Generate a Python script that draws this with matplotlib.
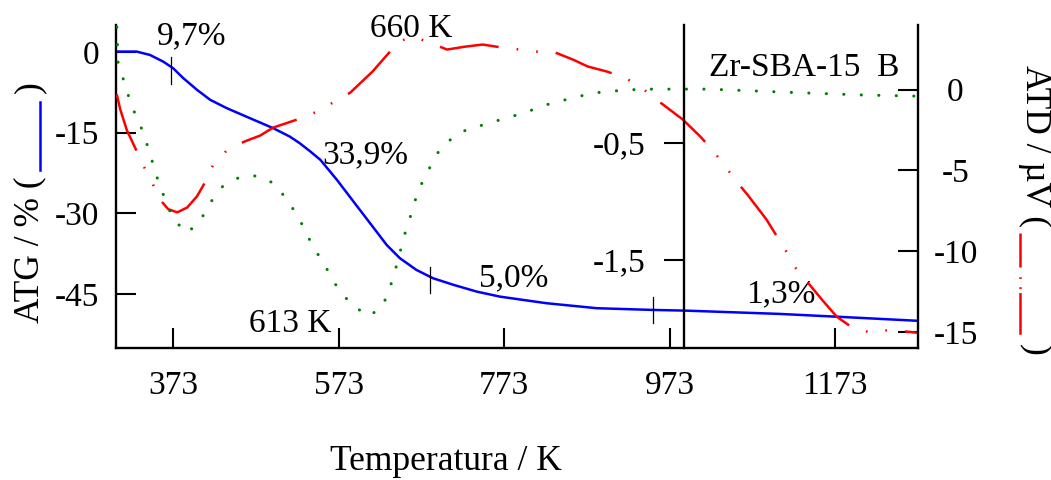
import matplotlib
matplotlib.use("Agg")
import matplotlib.pyplot as plt
from matplotlib.lines import Line2D

plt.rcParams['font.family'] = ['Liberation Serif', 'DejaVu Serif']
plt.rcParams['font.size'] = 24
plt.rcParams['axes.unicode_minus'] = False
plt.rcParams['lines.scale_dashes'] = False

BLUE, RED, GREEN = "#0000ff", "#ff0000", "#008000"

# ---------------------------------------------------------------- data
# ATG (mass loss, %) vs temperature
T_atg = [304, 329, 345, 361, 373, 385, 402, 418, 438, 466, 494, 514, 526, 539, 551,
         571, 591, 611, 631, 647, 667, 687, 712, 740, 768, 824, 885, 953, 993,
         1106, 1187, 1273]
atg = [0.06, 0.06, -0.56, -1.80, -3.03, -4.83, -7.06, -8.92, -10.46, -12.32,
       -14.17, -15.73, -16.96, -18.52, -20.06, -23.78, -27.81, -31.82, -35.85,
       -38.32, -40.50, -42.04, -43.28, -44.53, -45.46, -46.68, -47.61,
       -47.93, -48.06, -48.67, -49.28, -49.95]

# ATD (uV) vs temperature
T_atd = [305, 309, 317, 328, 337, 348, 357, 367, 378, 390, 402, 412, 421, 439, 460,
         478, 494, 526, 547, 566, 587, 614, 635, 645, 663, 683, 704, 726, 747, 771,
         792, 813, 832, 856, 874, 897, 919, 939, 957, 989, 1010, 1021, 1036, 1052,
         1067, 1090, 1114, 1124, 1142, 1157, 1175, 1194, 1217, 1239, 1260, 1273]
atd = [-0.3, -1.2, -2.5, -3.7, -4.7, -5.8, -6.8, -7.4, -7.6, -7.3, -6.6, -5.7, -4.7,
       -3.7, -3.2, -2.85, -2.35, -1.8, -1.36, -0.81, -0.19, 1.12, 2.35, 2.97, 3.28,
       2.91, 2.48, 2.66, 2.79, 2.60, 2.48, 2.35, 2.35, 1.86, 1.43, 1.12, 0.74, 0.12,
       -0.62, -1.86, -2.91, -3.53, -4.46, -5.58, -6.51, -8.05, -10.04, -10.97,
       -12.08, -13.01, -14.07, -14.75, -15.06, -14.87, -14.99, -15.06]

# DTG (inner axis) vs temperature
T_dtg = [305, 306.5, 314, 320, 328, 337, 344, 350, 356, 364.5, 373, 390, 406, 419,
         433, 454, 476, 496, 512, 525, 535, 547, 559, 571, 587, 608.5, 625, 634,
         640, 646, 651, 658, 664, 671, 681, 692, 711, 732, 752, 773, 794, 814, 834,
         855, 875, 897, 918, 939, 982, 1021, 1127, 1206, 1273]
dtg = [0.49, 0.18, 0.02, -0.12, -0.27, -0.41, -0.57, -0.71, -0.85, -1.00, -1.15,
       -1.27, -1.16, -1.00, -0.87, -0.79, -0.78, -0.85, -1.00, -1.14, -1.29, -1.44,
       -1.58, -1.73, -1.87, -1.98, -1.91, -1.76, -1.62, -1.47, -1.32, -1.17, -1.02,
       -0.88, -0.74, -0.59, -0.45, -0.37, -0.34, -0.29, -0.25, -0.20, -0.15, -0.12,
       -0.08, -0.06, -0.05, -0.04, -0.04, -0.04, -0.07, -0.09, -0.10]

x_ticks = [373, 573, 773, 973, 1173]
atg_ticks = [0, -15, -30, -45]
atd_ticks = [0, -5, -10, -15]
dtg_ticks = [-0.5, -1.5]
dtg_ticklabels = ["-0,5", "-1,5"]

# step marks on the ATG curve (T, y from, y to) and the labels
marks = [(371, -0.9, -5.9), (683, -39.9, -44.8), (953, -45.5, -50.4)]
notes = [("9,7%", 395, 1.4), ("33,9%", 605, -20.6), ("5,0%", 785, -43.5),
         ("1,3%", 1107, -46.6), ("660 K", 661, 2.8), ("613 K", 514, -52.0),
         ("Zr-SBA-15  B", 1135, -4.5)]

# ---------------------------------------------------------------- figure
W, H = 1051, 480
fx = lambda px: px / W
fy = lambda py: 1 - py / H

fig = plt.figure(figsize=(W / 100, H / 100), dpi=100)
ax = fig.add_axes([fx(116), fy(348), (918 - 116) / W, (348 - 25) / H])
ax2 = ax.twinx()
ax3 = ax.twinx()

ax.plot(T_atg, atg, color=BLUE, lw=1.8)
ax2.plot(T_atd, atd, color=RED, lw=1.8, ls=(0, (43, 13, 1.2, 13, 1.2, 13)))
ax3.plot(T_dtg, dtg, color=GREEN, lw=2.2, ls=(0, (0.1, 12.5)), dash_capstyle="round")

for T, y0, y1 in marks:
    ax.plot([T, T], [y0, y1], color="black", lw=0.9)
for s, T, y in notes:
    ax.text(T, y, s, ha="center", va="baseline")

ax.set_xlim(304, 1273)
ax.set_ylim(-55, 5)
ax2.set_ylim(-16, 4)
ax3.set_ylim(-2.252, 0.508)

ax.set_xticks(x_ticks)
ax.set_yticks(atg_ticks)
ax2.set_yticks(atd_ticks)
ax3.set_yticks(dtg_ticks)
ax3.set_yticklabels(dtg_ticklabels)

ax.spines[["top", "right"]].set_visible(False)
ax2.spines[["top", "left", "bottom"]].set_visible(False)
ax3.spines[["top", "right", "bottom"]].set_visible(False)
ax3.spines["left"].set_position(("data", 990))
ax3.yaxis.tick_left()
for a in (ax, ax2, ax3):
    for sp in a.spines.values():
        sp.set_linewidth(1.7)

ax.tick_params(axis="x", direction="in", length=14.4, width=1.5, pad=16)
ax.tick_params(axis="y", direction="in", length=14.4, width=1.5, pad=12)
ax2.tick_params(axis="y", direction="in", length=14.4, width=1.5, pad=27)
for lab in ax2.get_yticklabels():
    lab.set_horizontalalignment("center")
ax3.tick_params(axis="y", direction="out", length=14.4, width=1.5, pad=13)

# axis titles with their line samples
LAB = 25.5
fig.text(fx(446), fy(461), "Temperatura / K", ha="center", va="center", fontsize=LAB)
fig.text(fx(30), fy(323), "ATG / % (", rotation=90, ha="center", va="bottom",
         fontsize=LAB)
fig.add_artist(Line2D([fx(40), fx(40)], [fy(102), fy(170)], color=BLUE, lw=1.8))
fig.text(fx(30), fy(87), ")", rotation=90, ha="center", va="center", fontsize=LAB)
fig.text(fx(1035), fy(65), "ATD / µV (", rotation=270, ha="center", va="top",
         fontsize=LAB)
fig.add_artist(Line2D([fx(1020), fx(1020)], [fy(233), fy(335)], color=RED, lw=1.8,
                      ls=(0, (24.5, 7, 1.2, 6, 1.2, 3, 30))))
fig.text(fx(1035), fy(350), ")", rotation=270, ha="center", va="center",
         fontsize=LAB)

fig.savefig("out.png", dpi=100)
